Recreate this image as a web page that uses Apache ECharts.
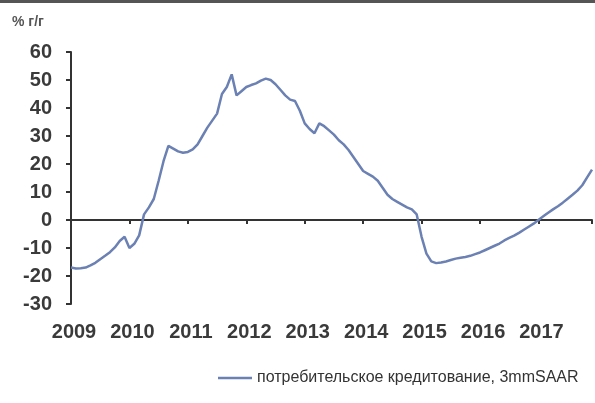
<!DOCTYPE html>
<html>
<head>
<meta charset="utf-8">
<style>
  html, body { margin: 0; padding: 0; background: #ffffff; }
  #chart { width: 595px; height: 403px; }
</style>
<script src="https://cdn.jsdelivr.net/npm/echarts@6/dist/echarts.min.js"></script>
</head>
<body>
<div id="chart"></div>
<script>
// Monthly series, Jan 2009 .. Dec 2017 (% y/y)
const startYear = 2009;
const yearTicks = [2009, 2010, 2011, 2012, 2013, 2014, 2015, 2016, 2017];
const seriesName = 'потребительское кредитование, 3mmSAAR';
const unitLabel = '% г/г';
const consumerLending = [
  // 2009
  -17, -17.3, -17.2, -17, -16.2, -15.3, -14, -12.8, -11.5, -9.8, -7.5, -6,
  // 2010
  -10, -8.5, -5.5, 2, 4.5, 7.5, 14, 21, 26.5, 25.5, 24.5, 24,
  // 2011
  24.3, 25.2, 27, 30, 33, 35.5, 38, 45, 47.5, 52, 44.5, 46,
  // 2012
  47.5, 48.2, 48.8, 49.8, 50.5, 50, 48.5, 46.5, 44.5, 43, 42.5, 39,
  // 2013
  34.5, 32.5, 31, 34.5, 33.5, 32, 30.5, 28.5, 27, 25, 22.5, 20,
  // 2014
  17.5, 16.5, 15.5, 14, 11.5, 9, 7.5, 6.5, 5.5, 4.5, 3.8, 2,
  // 2015
  -6, -12, -14.8, -15.4, -15.2, -14.8, -14.3, -13.8, -13.5, -13.2, -12.8, -12.2,
  // 2016
  -11.6, -10.8, -10, -9.2, -8.4, -7.3, -6.4, -5.6, -4.6, -3.5, -2.4, -1.3,
  // 2017
  0, 1.3, 2.6, 3.8, 4.9, 6.2, 7.6, 9, 10.5, 12.4, 15.2, 18
];

// pair each monthly value with its fractional-year position
const points = consumerLending.map((v, i) => [startYear + i / 12, v]);
const xMax = startYear + (consumerLending.length - 1) / 12;

const chart = echarts.init(document.getElementById('chart'), null, { renderer: 'canvas' });

const labelFont = {
  fontFamily: 'Liberation Sans, Arial, sans-serif',
  fontSize: 20,
  fontWeight: 'bold',
  color: '#3a3a3a'
};

chart.setOption({
  animation: false,
  backgroundColor: '#ffffff',
  grid: { left: 71, top: 52, bottom: 99, width: 526, containLabel: false },
  graphic: [
    { type: 'rect', left: 0, top: 0, shape: { width: 595, height: 3 }, style: { fill: '#555555' } },
    {
      type: 'text', left: 12, top: 15,
      style: { text: unitLabel, font: 'bold 14px Liberation Sans, Arial, sans-serif', fill: '#555555' }
    }
  ],
  legend: {
    left: 218, top: 370, padding: 0,
    icon: 'rect',
    itemWidth: 34, itemHeight: 2.5,
    textStyle: { fontFamily: 'Liberation Sans, Arial, sans-serif', fontSize: 16, color: '#333333' },
    data: [seriesName]
  },
  xAxis: [
    {
      // zero line with year ticks
      type: 'value', min: startYear, max: xMax, interval: 1,
      axisLine: { onZero: true, lineStyle: { color: '#333333', width: 2 } },
      axisTick: { show: true, length: 4, lineStyle: { color: '#333333', width: 2 } },
      axisLabel: { show: false },
      splitLine: { show: false }
    },
    {
      // year labels along the bottom
      type: 'value', min: startYear, max: xMax, interval: 1, position: 'bottom',
      axisLine: { show: false }, axisTick: { show: false }, splitLine: { show: false },
      axisLabel: Object.assign({
        margin: 18,
        padding: [0, 0, 0, 6],
        formatter: v => (yearTicks.includes(Math.round(v)) ? String(Math.round(v)) : '')
      }, labelFont)
    }
  ],
  yAxis: {
    type: 'value', min: -30, max: 60, interval: 10,
    axisLine: { show: true, onZero: false, lineStyle: { color: '#333333', width: 2 } },
    axisTick: { show: true, length: 5, lineStyle: { color: '#333333', width: 2 } },
    axisLabel: Object.assign({ margin: 19 }, labelFont),
    splitLine: { show: false }
  },
  series: [{
    name: seriesName,
    type: 'line',
    xAxisIndex: 0,
    data: points,
    showSymbol: false,
    symbol: 'none',
    color: '#6b80b3',
    lineStyle: { width: 2.5, color: '#6b80b3' },
    clip: true
  }]
});
</script>
</body>
</html>
